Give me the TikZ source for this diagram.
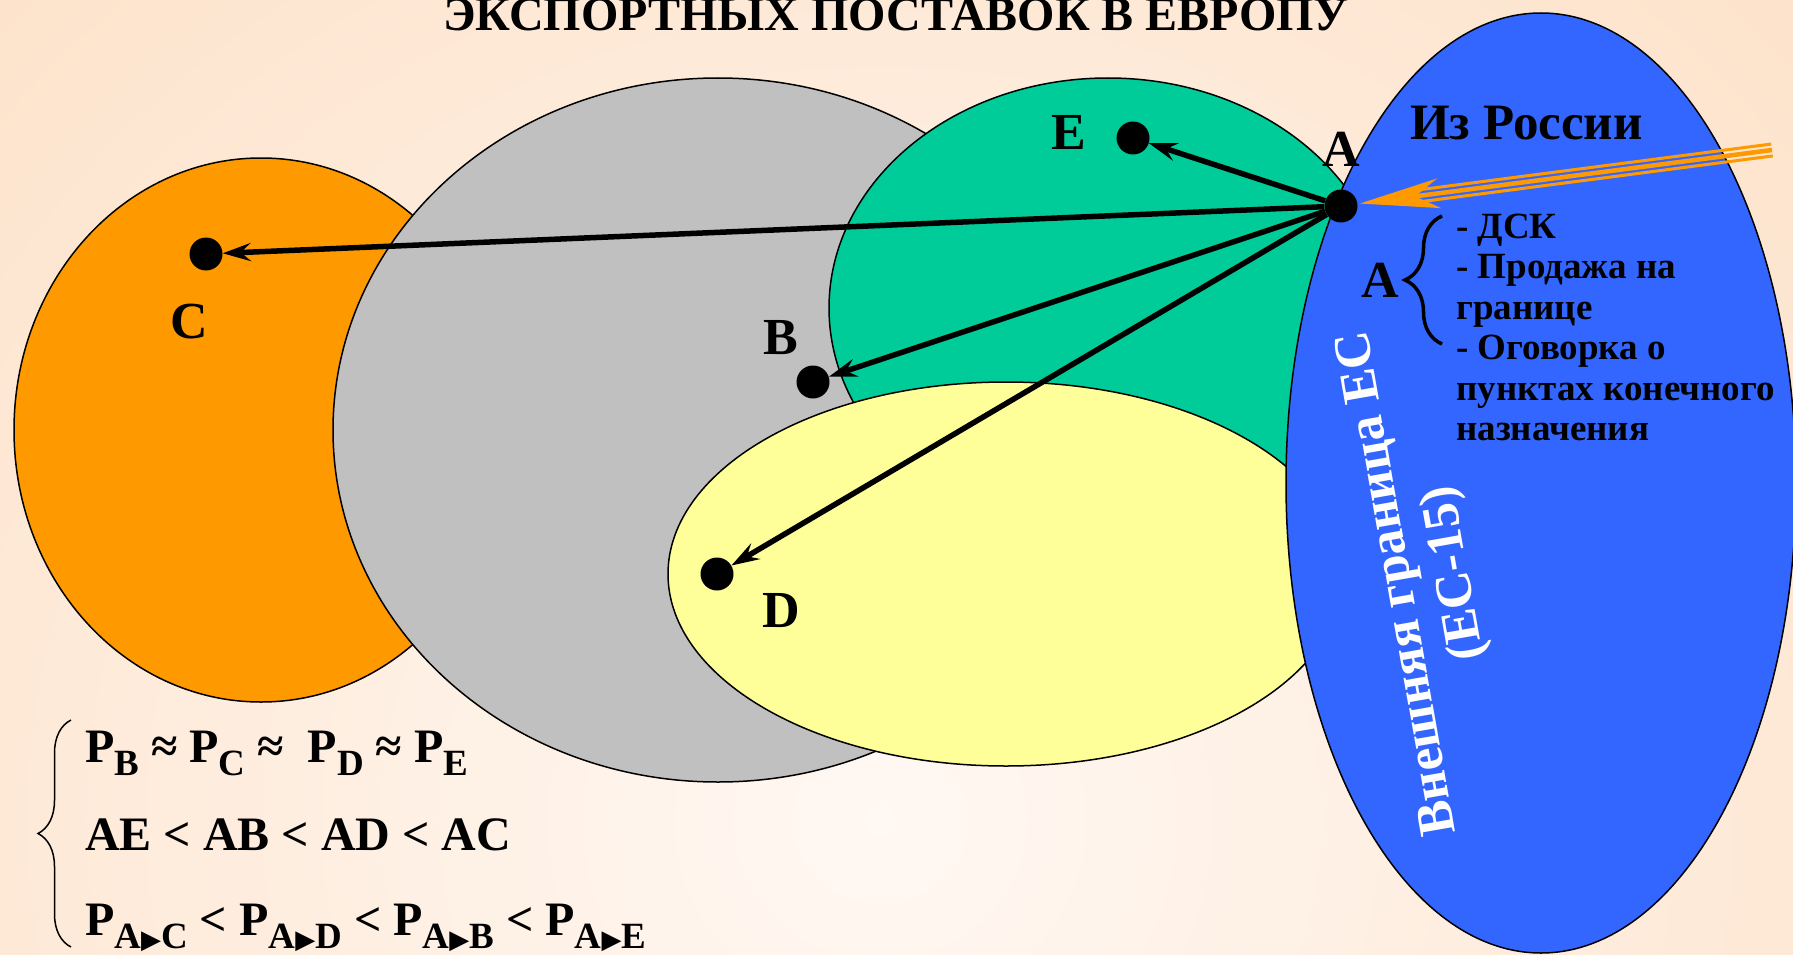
\documentclass[tikz,border=0pt]{standalone}
\usepackage{fontspec}
\setmainfont{Liberation Serif}
\newfontfamily\trifont{DejaVu Sans}
\usetikzlibrary{arrows.meta,calc,decorations.pathreplacing}

\definecolor{bgpeach}{HTML}{FCD6B3}
\definecolor{bglight}{HTML}{FFF8F3}
\definecolor{euorange}{HTML}{FF9900}
\definecolor{eugray}{HTML}{C0C0C0}
\definecolor{eugreen}{HTML}{00CC99}
\definecolor{euyellow}{HTML}{FFFF99}
\definecolor{eublue}{HTML}{3366FF}

\newcommand{\fs}[1]{\fontsize{#1}{#1}\selectfont}
\newcommand{\lowsub}[1]{\raisebox{-13pt}{\fs{37}#1}}
\newcommand{\tri}{{\trifont\fs{26}▶}}

\begin{document}
\begin{tikzpicture}[x=1pt,y=-1pt,
  region/.style={draw=black,line width=1.5pt},
  dot/.style={circle,fill=black,inner sep=0pt,minimum size=33pt},
  ptlabel/.style={font=\rmfamily\bfseries\fs{52},inner sep=0pt},
  route/.style={line width=5.5pt,-{Stealth[length=28pt,width=18pt,inset=10pt]}},
  txt/.style={inner sep=0pt,anchor=base west},
  stripe/.style={euorange,line width=#1}]

\useasboundingbox (0,0) rectangle (1793,955);

% soft peach background
\fill[bgpeach] (0,0) rectangle (1793,955);
\begin{scope}
  \clip (0,0) rectangle (1793,955);
  \shade[inner color=bglight,outer color=bgpeach] (880,820) ellipse [x radius=2000pt,y radius=1900pt];
\end{scope}

\begin{scope}
\clip (0,0) rectangle (1793,955);

% title (second line of the heading)
\node[anchor=base,inner sep=0pt,font=\rmfamily\bfseries\fs{48}] (title) at (896,31) {ЭКСПОРТНЫХ ПОСТАВОК В ЕВРОПУ};

% market regions
\draw[region,fill=euorange] (261,430) ellipse [x radius=247pt,y radius=272pt];
\draw[region,fill=eugray]   (718,430) ellipse [x radius=385pt,y radius=352pt];
\draw[region,fill=eugreen]  (1108,308) ellipse [x radius=279pt,y radius=230pt];
\draw[region,fill=euyellow] (1006,574) ellipse [x radius=338pt,y radius=192pt];
\draw[region,fill=eublue]   (1541,483) ellipse [x radius=255pt,y radius=470pt];

% points
\node[dot] (A) at (1341,206) {};
\node[dot] (E) at (1133,138) {};
\node[dot] (C) at (206,254) {};
\node[dot] (B) at (813,382) {};
\node[dot] (D) at (717,574) {};

\node[ptlabel] (lA) at (1341,149) {A};
\node[ptlabel] (lE) at (1069,132) {E};
\node[ptlabel] (lC) at (189,322) {C};
\node[ptlabel] (lB) at (781,338) {B};
\node[ptlabel] (lD) at (781,611) {D};

% routes from the entry point
\draw[route] (A) -- (E);
\draw[route] (A) -- (C);
\draw[route] (A) -- (B);
\draw[route] (A) -- (D);

% striped arrow coming from Russia
\coordinate (ru) at (1772,150);
\coordinate (tipR) at ($(A)!19pt!(ru)$);
\coordinate (backR) at ($(tipR)!80pt!(ru)$);
\coordinate (notchR) at ($(tipR)!56pt!(ru)$);
\coordinate (b1) at ($(backR)!15pt!90:(ru)$);
\coordinate (b2) at ($(backR)!15pt!-90:(ru)$);
\draw[stripe=3pt] ($(ru)!6pt!90:(notchR)$) -- ($(notchR)!6pt!-90:(ru)$);
\draw[stripe=3pt] ($(ru)!6pt!-90:(notchR)$) -- ($(notchR)!6pt!90:(ru)$);
\draw[stripe=4.5pt] (ru) -- (notchR);
\fill[euorange] (tipR) -- (b1) -- (notchR) -- (b2) -- cycle;

% texts inside the EU border
\node[txt,font=\rmfamily\bfseries\fs{51}] (from) at (1410,139.5) {Из России};
\node[ptlabel] (lA2) at (1380,280) {A};
\draw[line width=3.5pt,decorate,decoration={brace,amplitude=37pt}] (1442,344) -- (1442,216);
\foreach \t [count=\i] in {- ДСК,- Продажа на,границе,- Оговорка о,пунктах конечного,назначения}
  \node[txt,font=\rmfamily\bfseries\fs{37}] (item\i) at (1456,{238+40.5*(\i-1)}) {\t};

\node[rotate=100,align=center,text=white,inner sep=0pt,font=\rmfamily\bfseries\fontsize{52}{58}\selectfont] (border) at (1428,578) {Внешняя граница ЕС\\(ЕС-15)};

% relations
\draw[line width=1.5pt,decorate,decoration={brace,amplitude=33pt}] (71,947) -- (71,720);
\node[txt,font=\rmfamily\bfseries\fs{48}] (f1) at (85,762) {P\lowsub{B} ≈ P\lowsub{C} ≈ \ P\lowsub{D} ≈ P\lowsub{E}};
\node[txt,font=\rmfamily\bfseries\fs{48}] (f2) at (85,850) {AE < AB < AD < AC};
\node[txt,font=\rmfamily\bfseries\fs{48}] (f3) at (85,935) {P\lowsub{A\tri C} < P\lowsub{A\tri D} < P\lowsub{A\tri B} < P\lowsub{A\tri E}};
\end{scope}
\end{tikzpicture}
\end{document}
